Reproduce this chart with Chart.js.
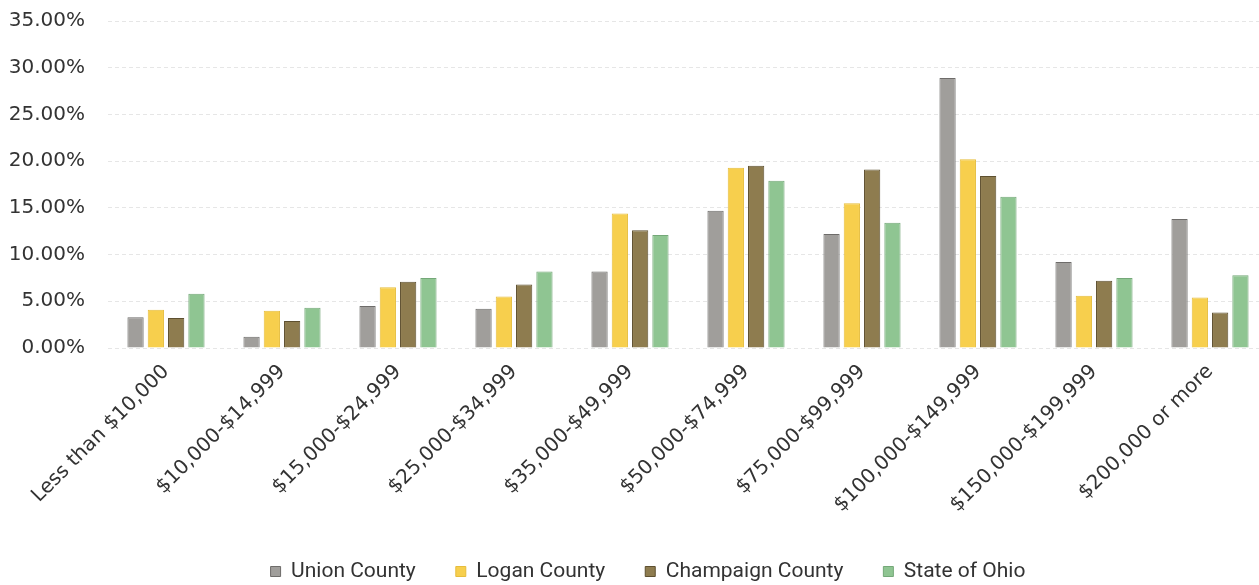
<!DOCTYPE html>
<html>
<head>
<meta charset="utf-8">
<script src="https://cdn.jsdelivr.net/npm/chart.js@4/dist/chart.umd.min.js"></script>
<style>
html,body{margin:0;padding:0;background:#fff;overflow:hidden;}
#wrap{width:1270px;height:606px;position:absolute;left:0;top:-14px;}
</style>
</head>
<body>
<div id="wrap"><canvas id="c"></canvas></div>
<script>
const categories = ["Less than $10,000","$10,000-$14,999","$15,000-$24,999","$25,000-$34,999","$35,000-$49,999","$50,000-$74,999","$75,000-$99,999","$100,000-$149,999","$150,000-$199,999","$200,000 or more"];
const unionCounty     = [3.3, 1.2, 4.5, 4.2, 8.2, 14.7, 12.2, 28.9, 9.2, 13.8];
const loganCounty     = [4.1, 4.0, 6.5, 5.5, 14.4, 19.3, 15.5, 20.2, 5.6, 5.4];
const champaignCounty = [3.2, 2.9, 7.1, 6.8, 12.6, 19.5, 19.1, 18.4, 7.2, 3.8];
const stateOfOhio     = [5.8, 4.3, 7.5, 8.2, 12.1, 17.9, 13.4, 16.2, 7.5, 7.8];
const seriesNames = ["Union County","Logan County","Champaign County","State of Ohio"];
const yTicks = [0,5,10,15,20,25,30,35];

const fills = ["#a09e9b","#f7cf4d","#8e7c4f","#8fc592"];
const borders = ["#6e6c6a","#e6bd3c","#5e5030","#74a878"];
const allData = [unionCounty, loganCounty, champaignCounty, stateOfOhio];

const legendShift = {
  id: 'legendShift',
  afterLayout(chart) {
    if (chart.legend) { chart.legend.left += 14; chart.legend.right += 14; }
  }
};

new Chart(document.getElementById('c'), {
  type: 'bar',
  data: {
    labels: categories,
    datasets: allData.map((d,i)=>({
      label: seriesNames[i],
      data: d,
      backgroundColor: fills[i],
      borderColor: borders[i],
      borderWidth: 1,
      categoryPercentage: 0.7,
      barPercentage: 0.8
    }))
  },
  plugins: [legendShift],
  options: {
    responsive: true,
    maintainAspectRatio: false,
    animation: false,
    layout: {padding: {left: 0, right: 2, top: 8, bottom: 0}},
    plugins: {
      legend: {
        position: 'bottom',
        labels: {
          boxWidth: 10, boxHeight: 10,
          padding: 40,
          color: '#333',
          font: {family: 'Roboto', size: 21}
        }
      },
      tooltip: {enabled: false}
    },
    scales: {
      x: {
        grid: {display: false},
        border: {display: false},
        afterFit: (axis) => { axis.height = 173; },
        ticks: {
          color: '#333',
          maxRotation: 45, minRotation: 45,
          font: {family: 'DejaVu Sans', size: 20},
          padding: 4
        }
      },
      y: {
        min: 0, max: 35,
        afterBuildTicks: (axis) => { axis.ticks = yTicks.map(v=>({value:v})); },
        afterFit: (axis) => { axis.width = 108; },
        grid: {color: '#e6e6e6', lineWidth: 1, drawTicks: false},
        border: {display: false, dash: [4,3]},
        ticks: {
          color: '#333',
          padding: 23,
          font: {family: 'DejaVu Sans', size: 20},
          callback: (v) => v.toFixed(2) + '%'
        }
      }
    }
  }
});
</script>
</body>
</html>
